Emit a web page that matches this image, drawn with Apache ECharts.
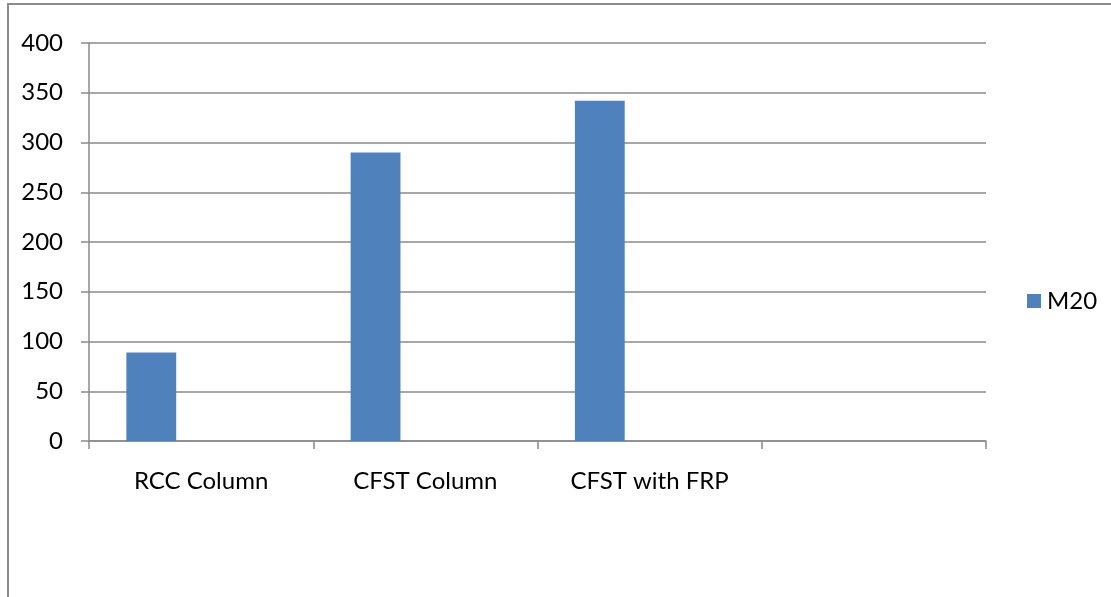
<!DOCTYPE html>
<html>
<head>
<meta charset="utf-8">
<script src="https://cdn.jsdelivr.net/npm/echarts@6/dist/echarts.min.js"></script>
<style>
  html, body { margin: 0; padding: 0; background: #fff; }
  #chart { width: 1111px; height: 597px; }
</style>
</head>
<body>
<div id="chart"></div>
<script>
// Column types along the category axis (the fourth slot is left blank)
const categories = ['RCC Column', 'CFST Column', 'CFST with FRP', ''];
// Values for the M20 series
const m20Values = [89, 290, 342, null];
// Y axis range and step
const yMin = 0;
const yMax = 400;
const yStep = 50;

const FONT = 'Lato';
const GRID_COLOR = '#8a8a8a';

const chart = echarts.init(document.getElementById('chart'), null, { renderer: 'canvas' });

// Two empty series keep the three-bar cluster layout, so each M20 bar sits
// at the left of its category slot.
const emptySlot = categories.map(() => null);

chart.setOption({
  animation: false,
  backgroundColor: '#fff',
  textStyle: { fontFamily: FONT, color: '#000' },
  graphic: [{
    type: 'rect',
    shape: { x: 8, y: 4, width: 1200, height: 700 },
    style: { fill: 'none', stroke: '#8c8c8c', lineWidth: 2 },
    silent: true
  }],
  grid: { left: 89, right: 125, top: 43, bottom: 156, containLabel: false },
  legend: {
    data: ['M20'],
    orient: 'vertical',
    left: 1022,
    top: 284,
    icon: 'rect',
    itemWidth: 14,
    itemHeight: 14,
    itemGap: 8,
    textStyle: { fontFamily: FONT, fontSize: 24, color: '#000', padding: [0, 0, 0, 1] }
  },
  xAxis: {
    type: 'category',
    data: categories,
    boundaryGap: true,
    axisLine: { lineStyle: { color: GRID_COLOR, width: 1.5 } },
    axisTick: { show: true, length: 8, alignWithLabel: false, lineStyle: { color: GRID_COLOR, width: 1.5 } },
    axisLabel: { fontFamily: FONT, fontSize: 24, color: '#000', margin: 28, interval: 0 },
    splitLine: { show: false }
  },
  yAxis: {
    type: 'value',
    min: yMin,
    max: yMax,
    interval: yStep,
    axisLine: { show: true, lineStyle: { color: GRID_COLOR, width: 1.5 } },
    axisTick: { show: true, length: 8, lineStyle: { color: GRID_COLOR, width: 1.5 } },
    axisLabel: { fontFamily: FONT, fontSize: 24, color: '#000', margin: 26 },
    splitLine: { show: true, lineStyle: { color: GRID_COLOR, width: 1.5 } }
  },
  series: [
    {
      name: 'M20',
      type: 'bar',
      data: m20Values,
      itemStyle: { color: '#4f81bd' },
      barGap: '0%',
      barCategoryGap: '33.33%'
    },
    { name: 'slot-2', type: 'bar', data: emptySlot },
    { name: 'slot-3', type: 'bar', data: emptySlot }
  ]
});
</script>
</body>
</html>
